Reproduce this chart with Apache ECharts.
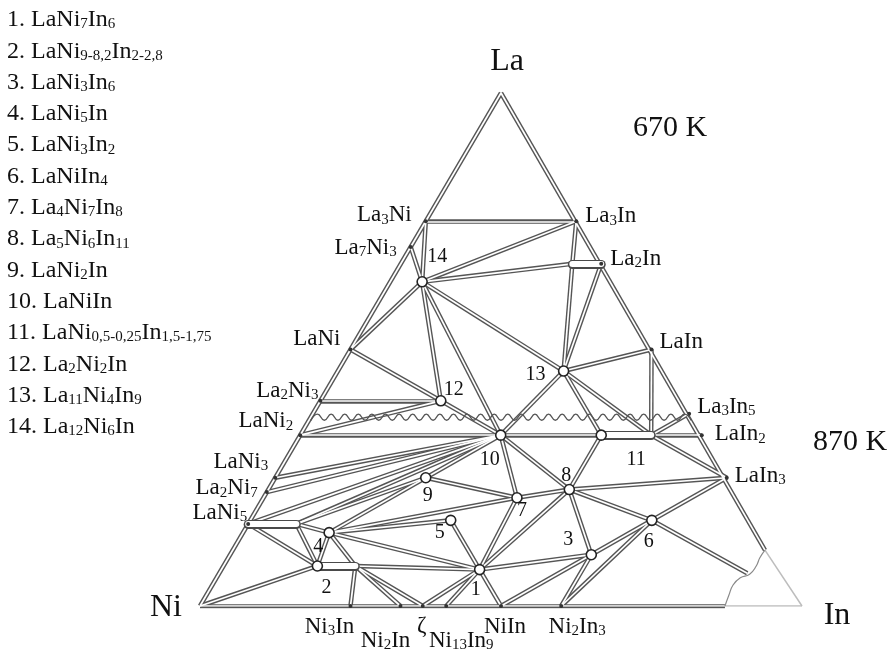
<!DOCTYPE html>
<html>
<head>
<meta charset="utf-8">
<script src="https://cdn.jsdelivr.net/npm/echarts@6/dist/echarts.min.js"></script>
<style>
  html, body { margin: 0; padding: 0; background: #fff; }
  #chart { width: 895px; height: 652px; }
</style>
</head>
<body>
<div id="chart"></div>
<script>
// compositions are atomic fractions of La and In, Ni is the rest
const binaryPhases = ['La3Ni', 'La7Ni3', 'LaNi', 'La2Ni3', 'LaNi2', 'LaNi3', 'La2Ni7', 'LaNi5',
  'La3In', 'La2In', 'LaIn', 'La3In5', 'LaIn2', 'LaIn3',
  'Ni3In', 'Ni2In', 'ζ', 'Ni13In9', 'NiIn', 'Ni2In3']
const binaryLabels = ['La{s|3}Ni', 'La{s|7}Ni{s|3}', 'LaNi', 'La{s|2}Ni{s|3}', 'LaNi{s|2}', 'LaNi{s|3}', 'La{s|2}Ni{s|7}', 'LaNi{s|5}',
  'La{s|3}In', 'La{s|2}In', 'LaIn', 'La{s|3}In{s|5}', 'LaIn{s|2}', 'LaIn{s|3}',
  'Ni{s|3}In', 'Ni{s|2}In', 'ζ', 'Ni{s|13}In{s|9}', 'NiIn', 'Ni{s|2}In{s|3}']
const binaryLa = [0.75, 0.7, 0.5, 0.4, 0.333, 0.25, 0.222, 0.16,
  0.75, 0.667, 0.5, 0.375, 0.333, 0.25,
  0, 0, 0, 0, 0, 0]
const binaryIn = [0, 0, 0, 0, 0, 0, 0, 0,
  0.25, 0.333, 0.5, 0.625, 0.667, 0.75,
  0.25, 0.333, 0.37, 0.409, 0.5, 0.6]

// ternary compounds 1..14
const ternaryIds = ['1', '2', '3', '4', '5', '6', '7', '8', '9', '10', '11', '12', '13', '14']
const ternaryLa = [0.071, 0.078, 0.1, 0.143, 0.167, 0.167, 0.211, 0.227, 0.25, 0.333, 0.333, 0.4, 0.458, 0.632]
const ternaryIn = [0.429, 0.156, 0.6, 0.143, 0.333, 0.667, 0.421, 0.5, 0.25, 0.333, 0.5, 0.2, 0.375, 0.053]

// homogeneity ranges: start phase -> far end
const rangeStart = ['LaNi5', '2', '11', 'La2In']
const rangeEnd = ['LaNi5r', '2r', '11r', 'La2Inl']
const rangeEndLa = [0.16, 0.078, 0.333, 0.667]
const rangeEndIn = [0.08, 0.219, 0.583, 0.285]

const cornerNames = ['La', 'Ni', 'In']
const cornerLa = [1, 0, 0]
const cornerIn = [0, 0, 1]

// In-rich liquid boundary (from Ni-In side to La-In side)
const liquidLa = [0, 0.021, 0.041, 0.055, 0.062, 0.078, 0.094, 0.109]
const liquidIn = [0.872, 0.868, 0.865, 0.870, 0.882, 0.885, 0.883, 0.884]
const liquidTieLa = 0.064
const liquidTieIn = 0.877

// boundary between the 670 K (upper) and 870 K (lower) sections
const sectionLa = 0.368

const tieLines670 = [
  ['La3Ni', 'La3In'], ['La3Ni', '14'], ['La7Ni3', '14'], ['LaNi', '14'], ['LaNi', '12'], ['La2Ni3', '12'], ['LaNi2', '12'],
  ['14', 'La3In'], ['14', 'La2Inl'], ['14', '13'], ['14', '12'], ['14', '10'],
  ['La3In', 'La2Inl'], ['13', 'La2Inl'], ['13', 'La2In'], ['13', 'LaIn'], ['13', '10'], ['13', '11'], ['13', '11r'],
  ['LaIn', '11r'], ['La3In5', '11r'], ['12', '10']
]
const tieLines870 = [
  ['LaNi2', '10'], ['LaNi3', '10'], ['La2Ni7', '10'], ['LaNi5', '10'], ['LaNi5r', '10'], ['LaNi5r', '9'], ['9', '10'],
  ['LaNi5', '2'], ['LaNi5r', '2'], ['LaNi5r', '4'], ['4', '2'], ['4', '2r'], ['Ni', '2'],
  ['2r', 'Ni3In'], ['2r', 'Ni2In'], ['2r', 'ζ'], ['2r', '1'],
  ['4', '9'], ['4', '7'], ['4', '5'], ['4', '1'], ['5', '1'], ['9', '7'],
  ['10', '7'], ['10', '8'], ['10', '11'], ['7', '8'], ['7', '1'], ['8', '1'],
  ['1', 'ζ'], ['1', 'Ni13In9'], ['1', 'NiIn'], ['1', '3'],
  ['3', 'NiIn'], ['3', 'Ni2In3'], ['3', '8'], ['3', '6'],
  ['6', 'Ni2In3'], ['6', '8'], ['6', 'LaIn3'], ['6', 'liq'],
  ['8', 'LaIn3'], ['8', '11'], ['11r', 'LaIn3'], ['11r', 'LaIn2']
]

const legendLines = [
  '1. LaNi{s|7}In{s|6}',
  '2. LaNi{s|9-8,2}In{s|2-2,8}',
  '3. LaNi{s|3}In{s|6}',
  '4. LaNi{s|5}In',
  '5. LaNi{s|3}In{s|2}',
  '6. LaNiIn{s|4}',
  '7. La{s|4}Ni{s|7}In{s|8}',
  '8. La{s|5}Ni{s|6}In{s|11}',
  '9. LaNi{s|2}In',
  '10. LaNiIn',
  '11. LaNi{s|0,5-0,25}In{s|1,5-1,75}',
  '12. La{s|2}Ni{s|2}In',
  '13. La{s|11}Ni{s|4}In{s|9}',
  '14. La{s|12}Ni{s|6}In'
]

// label placement (offset of text anchor from the point, px)
const binaryLabelPos = {
  La3Ni: ['right', -14, -6], La7Ni3: ['right', -14, 1], LaNi: ['right', -10, -11], La2Ni3: ['right', -2, -10],
  LaNi2: ['right', -7, -14], LaNi3: ['right', -7, -16], La2Ni7: ['right', -9, -4], LaNi5: ['right', -1, -11],
  La3In: ['left', 9, -5], La2In: ['left', 9, -5], LaIn: ['left', 8, -8], La3In5: ['left', 8, -7],
  LaIn2: ['left', 13, -1], LaIn3: ['left', 8, -2],
  Ni3In: ['center', -21, 21], Ni2In: ['center', -15, 35], 'ζ': ['center', -1, 20],
  Ni13In9: ['center', 15, 35], NiIn: ['center', 4, 21], Ni2In3: ['center', 16, 21]
}
const ternaryLabelPos = {
  1: [-4, 20], 2: [9, 22], 3: [-23, -15], 4: [-11, 14], 5: [-11, 12], 6: [-3, 21], 7: [5, 13],
  8: [-3, -14], 9: [2, 18], 10: [-11, 25], 11: [35, 25], 12: [13, -11], 13: [-28, 4], 14: [15, -25]
}
const cornerLabelPos = { La: [6, -31], Ni: [-34, 2], In: [35, 10] }

const FONT = "'Liberation Serif', 'DejaVu Serif', serif"
const TEXT = '#111'
const sub = { fontFamily: FONT, fontSize: 15, color: TEXT, lineHeight: 10, verticalAlign: 'bottom' }
const plainText = { opacity: 1, textBorderWidth: 0, textBorderColor: 'transparent', textShadowBlur: 0 }

const toXY = (la, inn) => [inn + la / 2, la]
const pos = {}
binaryPhases.forEach((n, i) => { pos[n] = toXY(binaryLa[i], binaryIn[i]) })
ternaryIds.forEach((n, i) => { pos[n] = toXY(ternaryLa[i], ternaryIn[i]) })
rangeEnd.forEach((n, i) => { pos[n] = toXY(rangeEndLa[i], rangeEndIn[i]) })
cornerNames.forEach((n, i) => { pos[n] = toXY(cornerLa[i], cornerIn[i]) })
const liquid = liquidLa.map((la, i) => toXY(la, liquidIn[i]))
pos.liq = toXY(liquidTieLa, liquidTieIn)
pos.Lb = liquid[0]
pos.Lr = liquid[liquid.length - 1]

const segs = list => list.map(p => ({ coords: [pos[p[0]], pos[p[1]]] }))
const tubes = segs([['Ni', 'La'], ['La', 'Lr'], ['Ni', 'Lb']].concat(tieLines670, tieLines870))
const ranges = rangeStart.map((n, i) => ({ coords: [pos[n], pos[rangeEnd[i]]] }))

// wavy separator between the two isothermal sections
const xl = sectionLa / 2
const wave = []
const nWave = 56
for (let i = 0; i <= nWave; i++) {
  wave.push([xl + (1 - 2 * xl) * i / nWave, sectionLa + (i % 2 ? 0.006 : -0.006)])
}

const linesBase = { type: 'lines', coordinateSystem: 'cartesian2d', silent: true, animation: false }

const chart = echarts.init(document.getElementById('chart'))
chart.setOption({
  animation: false,
  grid: { left: 200, top: 93, width: 602, height: 513 },
  xAxis: { type: 'value', min: 0, max: 1, show: false },
  yAxis: { type: 'value', min: 0, max: 1, show: false },
  graphic: legendLines.map((t, i) => ({
    type: 'text',
    x: 7,
    y: 20 + i * 31.3,
    style: {
      text: t, fill: TEXT, fontFamily: FONT, fontSize: 24, lineHeight: 24,
      verticalAlign: 'middle', align: 'left',
      rich: { s: sub }
    }
  })).concat([
    { type: 'text', x: 670, y: 128, style: { text: '670 K', fill: TEXT, fontFamily: FONT, fontSize: 30, align: 'center', verticalAlign: 'middle' } },
    { type: 'text', x: 850, y: 442, style: { text: '870 K', fill: TEXT, fontFamily: FONT, fontSize: 30, align: 'center', verticalAlign: 'middle' } }
  ]),
  series: [
    Object.assign({}, linesBase, {
      z: 1,
      lineStyle: { color: '#bdbdbd', width: 1.5, opacity: 1 },
      data: [{ coords: [pos.Lr, pos.In] }, { coords: [pos.Lb, pos.In] }]
    }),
    Object.assign({}, linesBase, {
      z: 2,
      lineStyle: { color: '#555', width: 4.5, opacity: 1 },
      data: tubes
    }),
    Object.assign({}, linesBase, {
      z: 3,
      lineStyle: { color: '#ffffff', width: 1.7, opacity: 1 },
      data: tubes
    }),
    {
      type: 'line', silent: true, z: 4, symbol: 'none', smooth: 0.5,
      lineStyle: { color: '#555', width: 1.4 },
      data: wave
    },
    {
      type: 'line', silent: true, z: 4, symbol: 'none', smooth: 0.5,
      lineStyle: { color: '#8a8a8a', width: 1.2 },
      data: liquid
    },
    Object.assign({}, linesBase, {
      z: 5,
      lineStyle: { color: '#4a4a4a', width: 9, opacity: 1, cap: 'round' },
      data: ranges
    }),
    Object.assign({}, linesBase, {
      z: 6,
      lineStyle: { color: '#ffffff', width: 6, opacity: 1, cap: 'round' },
      data: ranges
    }),
    {
      type: 'scatter', silent: true, z: 7, symbol: 'circle', symbolSize: 4,
      itemStyle: { color: '#333', opacity: 1 },
      label: Object.assign({
        show: true, position: 'inside', color: TEXT, fontFamily: FONT, fontSize: 23, lineHeight: 24,
        formatter: p => binaryLabels[p.dataIndex],
        rich: { s: sub }
      }, plainText),
      data: binaryPhases.map(n => ({
        value: pos[n],
        label: { align: binaryLabelPos[n][0], offset: [binaryLabelPos[n][1], binaryLabelPos[n][2]] }
      }))
    },
    {
      type: 'scatter', silent: true, z: 8, symbol: 'circle', symbolSize: 10,
      itemStyle: { color: '#fff', borderColor: '#222', borderWidth: 1.6, opacity: 1 },
      label: Object.assign({
        show: true, position: 'inside', color: TEXT, fontFamily: FONT, fontSize: 20,
        formatter: p => ternaryIds[p.dataIndex]
      }, plainText),
      data: ternaryIds.map(n => ({
        value: pos[n],
        label: { offset: ternaryLabelPos[n] }
      }))
    },
    {
      type: 'scatter', silent: true, z: 8, symbolSize: 0,
      itemStyle: { opacity: 1 },
      label: Object.assign({
        show: true, position: 'inside', color: TEXT, fontFamily: FONT, fontSize: 32,
        formatter: p => cornerNames[p.dataIndex]
      }, plainText),
      data: cornerNames.map(n => ({ value: pos[n], label: { offset: cornerLabelPos[n] } }))
    }
  ]
})
</script>
</body>
</html>
